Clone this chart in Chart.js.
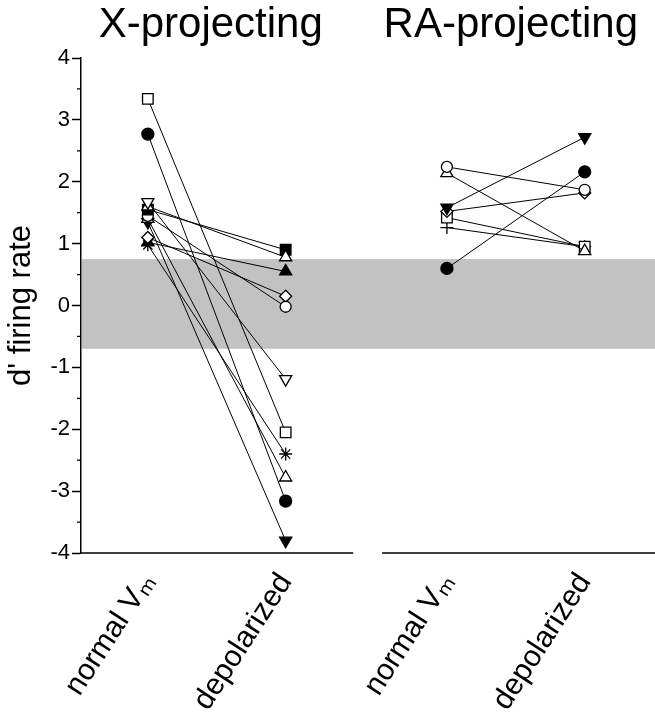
<!DOCTYPE html>
<html>
<head>
<meta charset="utf-8">
<script src="https://cdn.jsdelivr.net/npm/chart.js@4.4.1/dist/chart.umd.min.js"></script>
<style>
  body { margin: 0; background: #fff; }
  canvas { display: block; }
</style>
</head>
<body>
<canvas id="chart" width="655" height="720"></canvas>
<script>
// Category positions along the x axis (left panel, then right panel)
const catX = [1, 2, 3.17, 4.17];
const catLabels = ['normal V\u2098', 'depolarized', 'normal V\u2098', 'depolarized'];
const panelTitles = ['X-projecting', 'RA-projecting'];
const yTickValues = [-4, -3, -2, -1, 0, 1, 2, 3, 4];
const yMinorTicks = [-3.5, -2.5, -1.5, -0.5, 0.5, 1.5, 2.5, 3.5];
const bandRange = [-0.7, 0.75];

// X-projecting neurons: d' at normal Vm and depolarized
const xNormal = [3.34, 2.77, 1.67, 1.60, 1.55, 1.45, 1.40, 1.35, 1.10, 1.02, 0.98];
const xDepol  = [-2.05, -3.16, -1.19, 0.78, 0.90, -0.02, -2.78, -3.80, 0.15, 0.55, -2.40];
const xMarker = ['openSquare', 'filledCircle', 'openDown', 'openUp', 'filledSquare', 'openCircle',
                 'openUp', 'filledDown', 'openDiamond', 'filledUp', 'star'];

// RA-projecting neurons
const raNormal = [2.24, 2.14, 1.58, 1.52, 1.42, 1.26, 0.60];
const raDepol  = [1.87, 0.88, 2.72, 1.82, 0.95, 0.95, 2.16];
const raMarker = ['openCircle', 'openUp', 'filledDown', 'openDiamond', 'openSquare', 'plus', 'filledCircle'];

const FONT = '"Liberation Sans", Arial, Helvetica, sans-serif';

const markerStyles = {
    openSquare:   { style: 'rect', filled: false, radius: 7.5 },
    filledSquare: { style: 'rect', filled: true, radius: 7.5 },
    openCircle:   { style: 'circle', filled: false, radius: 5.5 },
    filledCircle: { style: 'circle', filled: true, radius: 6 },
    openUp:       { style: 'triangle', filled: false, radius: 7 },
    filledUp:     { style: 'triangle', filled: true, radius: 7 },
    openDown:     { style: 'triangle', filled: false, radius: 7, rotation: 180 },
    filledDown:   { style: 'triangle', filled: true, radius: 7, rotation: 180 },
    openDiamond:  { style: 'rectRot', filled: false, radius: 6 },
    star:         { style: 'star', filled: false, radius: 6.5 },
    plus:         { style: 'cross', filled: false, radius: 6.5 }
};

function buildPanel(normals, depols, markers, xa, xb) {
    return normals.map((v, i) => {
        const m = markerStyles[markers[i]];
        return {
            data: [{ x: xa, y: v }, { x: xb, y: depols[i] }],
            showLine: true,
            borderColor: '#000',
            borderWidth: 1,
            pointStyle: m.style,
            pointRotation: m.rotation || 0,
            pointRadius: m.radius,
            pointBackgroundColor: m.filled ? '#000' : '#fff',
            pointBorderColor: '#000',
            pointBorderWidth: 1.3,
            clip: false
        };
    });
}

const datasets = buildPanel(xNormal, xDepol, xMarker, catX[0], catX[1])
    .concat(buildPanel(raNormal, raDepol, raMarker, catX[2], catX[3]));

// Gray band, broken bottom axis, minor ticks and panel titles
const panelPlugin = {
    id: 'panels',
    beforeDatasetsDraw(chart) {
        const { ctx, chartArea, scales } = chart;
        const yTop = scales.y.getPixelForValue(bandRange[1]);
        const yBot = scales.y.getPixelForValue(bandRange[0]);
        ctx.save();
        ctx.fillStyle = '#c2c2c2';
        ctx.fillRect(chartArea.left + 1, yTop, chartArea.right - chartArea.left - 1, yBot - yTop);
        ctx.restore();
    },
    afterDraw(chart) {
        const { ctx, chartArea, scales } = chart;
        const xs = scales.x, ys = scales.y;
        ctx.save();
        ctx.strokeStyle = '#000';
        ctx.lineWidth = 1.5;
        const yb = chartArea.bottom;
        ctx.beginPath();
        ctx.moveTo(chartArea.left, yb);
        ctx.lineTo(xs.getPixelForValue(2.49), yb);
        ctx.moveTo(xs.getPixelForValue(2.70), yb);
        ctx.lineTo(chartArea.right, yb);
        ctx.stroke();

        ctx.lineWidth = 1.2;
        ctx.beginPath();
        yMinorTicks.forEach(v => {
            const py = ys.getPixelForValue(v);
            ctx.moveTo(chartArea.left - 4, py);
            ctx.lineTo(chartArea.left, py);
        });
        ctx.stroke();

        ctx.fillStyle = '#000';
        ctx.font = '42px ' + FONT;
        ctx.textAlign = 'center';
        ctx.textBaseline = 'alphabetic';
        ctx.fillText(panelTitles[0], (xs.getPixelForValue(catX[0]) + xs.getPixelForValue(catX[1])) / 2 - 6, 37);
        ctx.fillText(panelTitles[1], (xs.getPixelForValue(catX[2]) + xs.getPixelForValue(catX[3])) / 2 - 5, 37);
        ctx.restore();
    }
};

new Chart(document.getElementById('chart'), {
    type: 'scatter',
    data: { datasets: datasets },
    options: {
        responsive: false,
        animation: false,
        layout: { autoPadding: false, padding: { top: 58, left: 0, right: 0, bottom: 0 } },
        plugins: {
            legend: { display: false },
            tooltip: { enabled: false }
        },
        scales: {
            x: {
                type: 'linear',
                min: 0.515,
                max: 4.68,
                afterBuildTicks: scale => { scale.ticks = catX.map(v => ({ value: v })); },
                afterFit: scale => {
                    scale.height = 167;
                    scale.paddingLeft = 0;
                    scale.paddingRight = 0;
                },
                grid: { display: false },
                border: { display: false },
                ticks: {
                    autoSkip: false,
                    minRotation: 57,
                    maxRotation: 57,
                    padding: 6,
                    color: '#000',
                    font: { size: 30, family: FONT },
                    callback: (value, index) => catLabels[index]
                }
            },
            y: {
                min: -4,
                max: 4,
                afterBuildTicks: scale => { scale.ticks = yTickValues.map(v => ({ value: v })); },
                afterFit: scale => { scale.width = 81; },
                border: { color: '#000', width: 1.5 },
                grid: { drawOnChartArea: false, tickLength: 9, color: '#000', tickWidth: 1.5 },
                ticks: { color: '#000', padding: 2, font: { size: 22, family: FONT } },
                title: {
                    display: true,
                    text: "d' firing rate",
                    color: '#000',
                    padding: { top: 3, bottom: 0 },
                    font: { size: 31, family: FONT }
                }
            }
        }
    },
    plugins: [panelPlugin]
});
</script>
</body>
</html>
